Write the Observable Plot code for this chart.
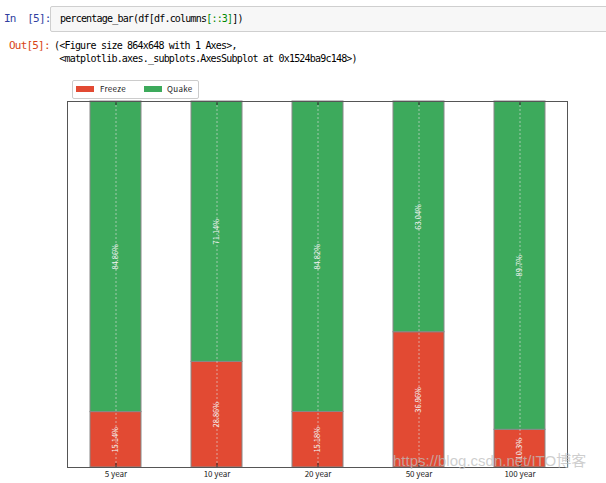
<!DOCTYPE html>
<html>
<head>
<meta charset="utf-8">
<script src="https://cdn.jsdelivr.net/npm/d3@7"></script>
<script src="https://cdn.jsdelivr.net/npm/@observablehq/plot@0.6"></script>
<style>
  html, body { margin: 0; padding: 0; background: #fff; }
  body { position: relative; width: 606px; height: 483px; overflow: hidden; font-family: "DejaVu Sans Mono", monospace; }
  .mono { position: absolute; font-family: "DejaVu Sans Mono", monospace; font-size: 10px; letter-spacing: -0.8px; white-space: pre; line-height: 12px; }
  #inbox { position: absolute; left: 50px; top: 6px; width: 570px; height: 24px; background: #f7f7f7; border: 1px solid #cfcfcf; border-radius: 2px; }
  #legend { position: absolute; left: 72px; top: 80px; width: 125px; height: 17px; border: 1px solid #ccc; border-radius: 2px; background: #fff; font-family: "Noto Sans CJK SC", sans-serif; font-size: 8px; color: #222; z-index: 2; letter-spacing: 0.3px; }
  #legend span.sw { position: absolute; top: 5px; width: 18px; height: 6px; }
  #legend span.lb { position: absolute; top: 2px; line-height: 12px; }
  #chart { position: absolute; left: 0; top: 75px; }
  #wm { position: absolute; left: 393px; top: 449px; font-family: "Liberation Sans", "Noto Sans CJK SC", sans-serif; font-size: 15px; color: rgba(190,190,190,0.75); z-index: 3; white-space: nowrap; }
</style>
</head>
<body>
<div class="mono" style="left:4px;top:13px;color:#303F9F;font-size:11px;">In  [5]:</div>
<div id="inbox"></div>
<div class="mono" style="left:60px;top:13px;color:#000;">percentage_bar(df[df.columns<span style="color:#008800">[::3]</span>])</div>
<div class="mono" style="left:9px;top:40px;color:#D84315;font-size:11px;">Out[5]:</div>
<div class="mono" style="left:54px;top:40px;color:#000;">(&lt;Figure size 864x648 with 1 Axes&gt;,</div>
<div class="mono" style="left:54px;top:53px;color:#000;"> &lt;matplotlib.axes._subplots.AxesSubplot at 0x1524ba9c148&gt;)</div>
<div id="legend">
  <span class="sw" style="left:3px;background:#E24A33;"></span><span class="lb" style="left:27px;">Freeze</span>
  <span class="sw" style="left:71px;background:#3DAA5C;"></span><span class="lb" style="left:94px;">Quake</span>
</div>
<div id="chart"></div>
<div id="wm">https://blog.csdn.net/ITO博客</div>
<script>
const periods = ["5 year", "10 year", "20 year", "50 year", "100 year"];
const freeze = [15.14, 28.86, 15.18, 36.96, 10.3];
const quake = [84.86, 71.14, 84.82, 63.04, 89.7];
const freezeLabels = ["15.14%", "28.86%", "15.18%", "36.96%", "10.3%"];
const quakeLabels = ["84.86%", "71.14%", "84.82%", "63.04%", "89.7%"];
const types = ["Freeze", "Quake"];
const colors = ["#E24A33", "#3DAA5C"];

const rows = [];
periods.forEach((p, i) => {
  rows.push({period: p, type: "Freeze", value: freeze[i], label: freezeLabels[i]});
  rows.push({period: p, type: "Quake", value: quake[i], label: quakeLabels[i]});
});

const chart = Plot.plot({
  width: 606,
  height: 408,
  marginLeft: 67,
  marginRight: 39,
  marginTop: 26,
  marginBottom: 16,
  style: {fontFamily: "'Noto Sans CJK SC', sans-serif", fontSize: "8px", background: "transparent", color: "#222"},
  x: {type: "band", domain: periods, paddingInner: 0.5, paddingOuter: 0.22, label: null},
  y: {domain: [0, 100], axis: null},
  color: {domain: types, range: colors},
  marks: [
    Plot.barY(rows, {x: "period", y: "value", fill: "type", order: types, stroke: "#888", strokeWidth: 1}),
    Plot.ruleX(periods, {x: d => d, y1: 0, y2: 100, stroke: "#dddddd", strokeOpacity: 0.8, strokeDasharray: "2,2", strokeWidth: 0.8}),
    Plot.text(rows, Plot.stackY({x: "period", y: "value", z: "type", order: types, text: "label", rotate: -90, fill: "#f4f4f4", fontSize: 7.5})),
    Plot.ruleX(periods, {x: d => d, y1: 0, y2: 1.1, stroke: "#222"}),
    Plot.ruleX(periods, {x: d => d, y1: 98.9, y2: 100, stroke: "#222"}),
    Plot.frame({stroke: "#555"}),
    Plot.axisX({tickSize: 0, tickPadding: 4, fontSize: 8})
  ]
});
document.getElementById("chart").appendChild(chart);
</script>
</body>
</html>
